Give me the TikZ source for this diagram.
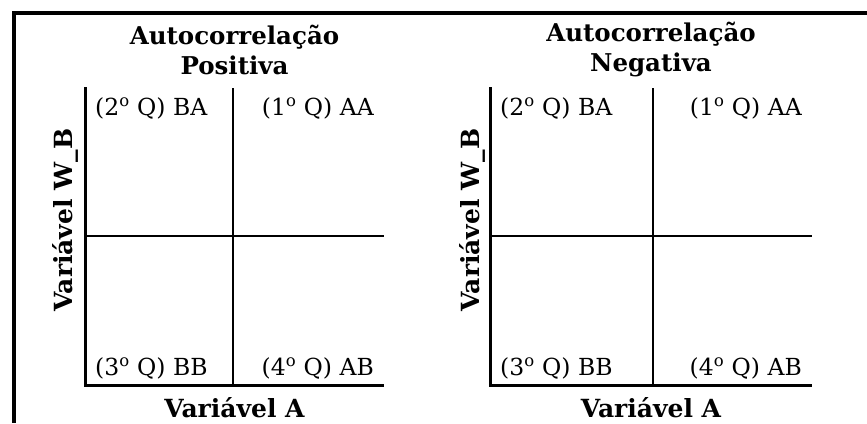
\documentclass[tikz,border=0pt]{standalone}
\usepackage{fontspec}
\setmainfont{DejaVu Serif}
\usetikzlibrary{positioning}

\begin{document}
\begin{tikzpicture}[
  x=1pt, y=-1pt,
  every node/.style={inner sep=0pt, text=black},
  frame/.style={draw=black, line width=3.5pt},
  axis/.style={draw=black, line width=3pt},
  split/.style={draw=black, line width=1.8pt},
  ttl/.style={font=\fontsize{24.5}{30}\selectfont\bfseries, align=center},
  quad/.style={font=\fontsize{23.5}{26}\selectfont},
  vlab/.style={font=\fontsize{25}{28}\selectfont\bfseries},
]
\useasboundingbox (0,0) rectangle (867,423);

% ---------------- outer frame ----------------
\draw[frame] (12,13) -- (867,13);
\draw[frame] (14,11.5) -- (14,423);

% ---------------- the two panels ----------------
% axis x / middle x / end x / W_B label x / title / name
\foreach \ax/\mx/\ex/\lx/\tt/\nm in {85/233/384/65/Positiva/pos, 490/653/812/472/Negativa/neg} {
  \node[ttl] (title-\nm) at ({(\ax+\ex)/2},50) {Autocorrelação\\\tt};

  \draw[axis] (\ax,87) -- (\ax,385) -- (\ex,385);
  \draw[split] (\mx,88) -- (\mx,385);
  \draw[split] (\ax,236) -- (\ex,236);

  \node[quad, anchor=west] (q2-\nm) at (\ax+10,108) {(2\textsuperscript{o} Q) BA};
  \node[quad, anchor=east] (q1-\nm) at (\ex-10,108) {(1\textsuperscript{o} Q) AA};
  \node[quad, anchor=west] (q3-\nm) at (\ax+10,368) {(3\textsuperscript{o} Q) BB};
  \node[quad, anchor=east] (q4-\nm) at (\ex-10,368) {(4\textsuperscript{o} Q) AB};

  \node[vlab] (xlab-\nm) at ({(\ax+\ex)/2},408) {Variável A};
  \node[vlab, rotate=90] (ylab-\nm) at (\lx,220) {Variável W\_B};
}

\end{tikzpicture}
\end{document}
